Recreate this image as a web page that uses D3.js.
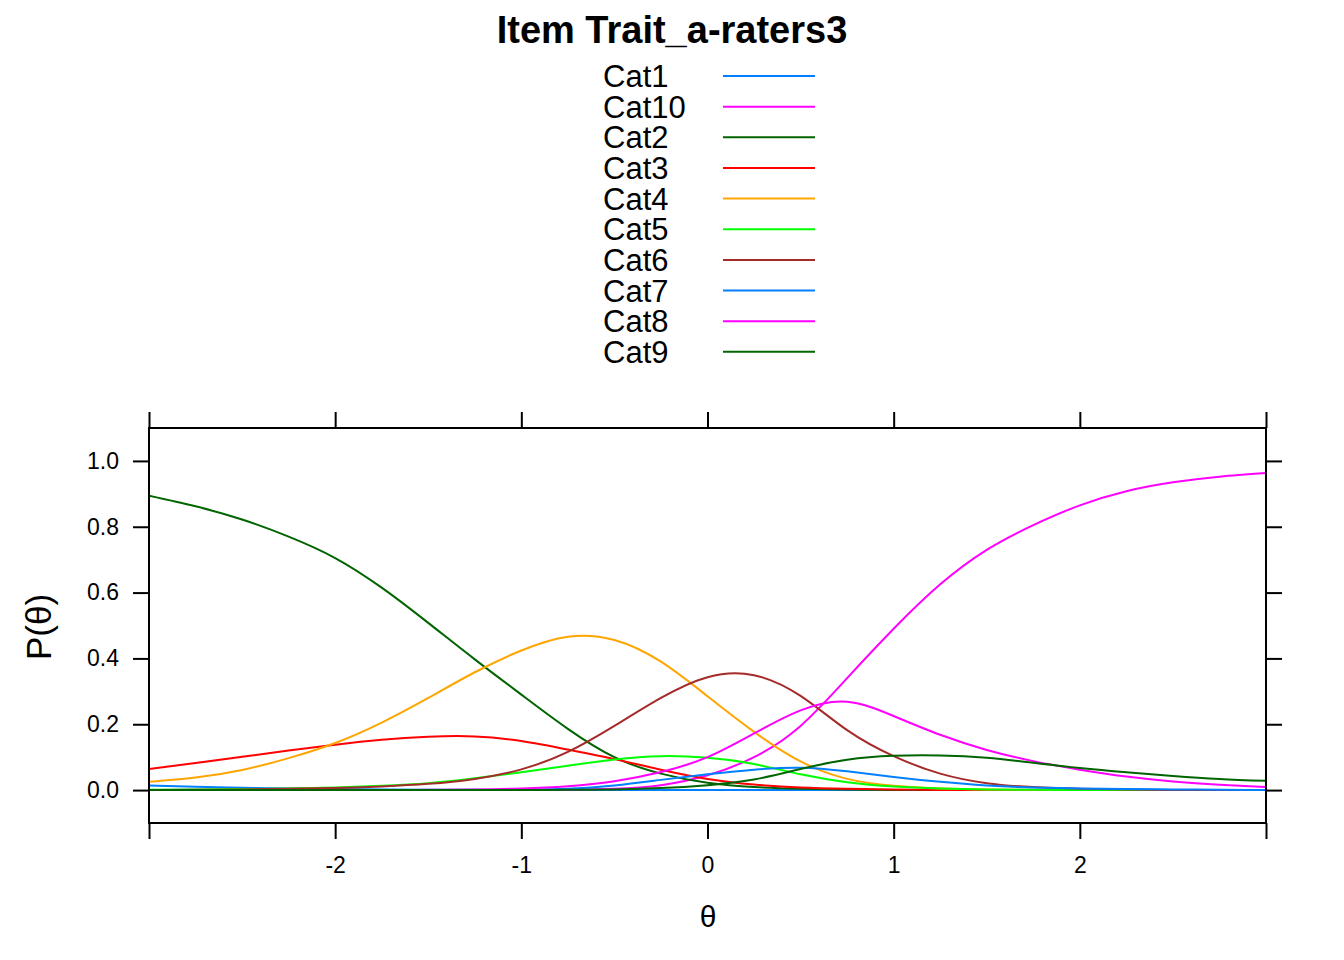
<!DOCTYPE html>
<html>
<head>
<meta charset="utf-8">
<script src="https://cdn.jsdelivr.net/npm/d3@7"></script>
<style>
  body { margin: 0; background: #fff; }
  svg { display: block; }
  text { font-family: "Liberation Sans", Arial, Helvetica, sans-serif; fill: #000; }
</style>
</head>
<body>
<svg id="chart" width="1344" height="960"></svg>
<script>
// ---- data ----
const theta = [-3, -2.75, -2.5, -2.25, -2, -1.75, -1.5, -1.25, -1, -0.75, -0.5, -0.25, 0,
               0.25, 0.5, 0.75, 1, 1.25, 1.5, 1.75, 2, 2.25, 2.5, 2.75, 3];
const cat1  = [0.014, 0.010, 0.007, 0.0045, 0.003, 0.002, 0.0012, 0.0007, 0.0003, 0.0001, 0, 0, 0,
               0, 0, 0, 0, 0, 0, 0, 0, 0, 0, 0, 0];
const cat2  = [0.894, 0.862, 0.822, 0.77, 0.705, 0.615, 0.508, 0.397, 0.29, 0.186, 0.10, 0.05, 0.022,
               0.009, 0.004, 0.0015, 0.0005, 0.0002, 0, 0, 0, 0, 0, 0, 0];
const cat3  = [0.064, 0.082, 0.101, 0.12, 0.138, 0.153, 0.162, 0.163, 0.149, 0.123, 0.094, 0.062, 0.034,
               0.017, 0.008, 0.004, 0.0015, 0.0006, 0.0002, 0, 0, 0, 0, 0, 0];
const cat4  = [0.025, 0.038, 0.061, 0.097, 0.143, 0.205, 0.28, 0.358, 0.424, 0.466, 0.456, 0.39, 0.285,
               0.177, 0.087, 0.034, 0.013, 0.005, 0.002, 0.0007, 0.0002, 0, 0, 0, 0];
const cat5  = [0.001, 0.002, 0.003, 0.005, 0.008, 0.013, 0.021, 0.036, 0.054, 0.074, 0.093, 0.103, 0.098,
               0.079, 0.048, 0.024, 0.011, 0.005, 0.002, 0.001, 0, 0, 0, 0, 0];
const cat6  = [0.0005, 0.001, 0.002, 0.004, 0.006, 0.011, 0.019, 0.034, 0.063, 0.116, 0.195, 0.28, 0.343,
               0.349, 0.286, 0.182, 0.103, 0.05, 0.021, 0.009, 0.004, 0.0015, 0.0005, 0, 0];
const cat7  = [0, 0, 0, 0, 0, 0, 0, 0, 0.001, 0.004, 0.014, 0.031, 0.048,
               0.062, 0.068, 0.057, 0.04, 0.025, 0.014, 0.008, 0.005, 0.003, 0.002, 0.001, 0.0005];
const cat8  = [0, 0, 0, 0, 0, 0, 0.001, 0.002, 0.005, 0.012, 0.027, 0.055, 0.10,
               0.172, 0.242, 0.268, 0.225, 0.168, 0.122, 0.088, 0.062, 0.041, 0.026, 0.016, 0.009];
const cat9  = [0, 0, 0, 0, 0, 0, 0, 0, 0, 0.001, 0.002, 0.006, 0.015,
               0.032, 0.064, 0.092, 0.104, 0.105, 0.098, 0.083, 0.067, 0.054, 0.043, 0.034, 0.028];
const cat10 = [0, 0, 0, 0, 0, 0, 0, 0, 0, 0.001, 0.004, 0.015, 0.045,
               0.10, 0.195, 0.34, 0.49, 0.625, 0.73, 0.805, 0.865, 0.908, 0.935, 0.952, 0.963];

const categories = ["Cat1", "Cat10", "Cat2", "Cat3", "Cat4", "Cat5", "Cat6", "Cat7", "Cat8", "Cat9"];
const seriesValues = [cat1, cat10, cat2, cat3, cat4, cat5, cat6, cat7, cat8, cat9];
const palette = ["#0080ff", "#ff00ff", "#006400", "#ff0000", "#ffa500", "#00ff00", "#a52a2a"];
const xTickValues = [-3, -2, -1, 0, 1, 2, 3];
const xTickLabels = ["", "-2", "-1", "0", "1", "2", ""];
const yTickValues = [0, 0.2, 0.4, 0.6, 0.8, 1.0];
const titleText = "Item Trait_a-raters3";
const xLabel = "θ";
const yLabel = "P(θ)";

// ---- drawing ----
(function () {
const svg = d3.select("#chart");
const pL = 149, pR = 1266, pT = 428, pB = 823;
const x = d3.scaleLinear().domain([-3, 3]).range([pL, pR]);
const y = d3.scaleLinear().domain([-0.1, 1.1]).range([pB, pT]);
const color = d3.scaleOrdinal().domain(categories).range(palette);

// title
svg.append("text")
  .attr("x", 672).attr("y", 43)
  .attr("text-anchor", "middle")
  .style("font-size", "38px").style("font-weight", "bold")
  .text(titleText);

// legend
const legendTop = 76, legendStep = 30.65;
const lg = svg.append("g");
categories.forEach((c, i) => {
  const yy = legendTop + i * legendStep;
  lg.append("text").attr("x", 603).attr("y", yy).attr("dy", "0.36em")
    .style("font-size", "31px").text(c);
  lg.append("line").attr("x1", 723).attr("x2", 815).attr("y1", yy).attr("y2", yy)
    .attr("stroke", color(c)).attr("stroke-width", 2);
});

// axes
const tickLen = 16;
function styleAxis(g) {
  g.select(".domain").remove();
  g.selectAll(".tick line").attr("stroke", "#000").attr("stroke-width", 2);
  g.selectAll(".tick text").style("font-size", "23px")
    .style("font-family", "'Liberation Sans', Arial, Helvetica, sans-serif").attr("fill", "#000");
}
svg.append("g").attr("transform", `translate(${pL},0)`)
  .call(d3.axisLeft(y).tickValues(yTickValues).tickFormat(d3.format(".1f")).tickSize(tickLen).tickPadding(14))
  .call(styleAxis);
svg.append("g").attr("transform", `translate(${pR},0)`)
  .call(d3.axisRight(y).tickValues(yTickValues).tickFormat("").tickSize(tickLen))
  .call(styleAxis);
svg.append("g").attr("transform", `translate(0,${pB})`)
  .call(d3.axisBottom(x).tickValues(xTickValues).tickFormat((d, i) => xTickLabels[i]).tickSize(tickLen).tickPadding(18))
  .call(styleAxis);
svg.append("g").attr("transform", `translate(0,${pT})`)
  .call(d3.axisTop(x).tickValues(xTickValues).tickFormat("").tickSize(tickLen))
  .call(styleAxis);

// clip + curves
svg.append("clipPath").attr("id", "clip").append("rect")
  .attr("x", pL).attr("y", pT).attr("width", pR - pL).attr("height", pB - pT);
const line = d3.line()
  .x(d => x(d[0])).y(d => y(d[1]))
  .curve(d3.curveNatural);
const curves = svg.append("g").attr("clip-path", "url(#clip)");
categories.forEach((c, i) => {
  const pts = theta.map((t, k) => [t, seriesValues[i][k]]);
  curves.append("path").datum(pts)
    .attr("d", line).attr("fill", "none")
    .attr("stroke", color(c)).attr("stroke-width", 2);
});

// panel border
svg.append("rect").attr("x", pL).attr("y", pT)
  .attr("width", pR - pL).attr("height", pB - pT)
  .attr("fill", "none").attr("stroke", "#000").attr("stroke-width", 2);

// axis labels
svg.append("text").attr("x", 708).attr("y", 927).attr("text-anchor", "middle")
  .style("font-size", "30px").text(xLabel);
svg.append("text").attr("transform", "translate(51,627) rotate(-90)")
  .attr("text-anchor", "middle").style("font-size", "35px").text(yLabel);
})();
</script>
</body>
</html>
